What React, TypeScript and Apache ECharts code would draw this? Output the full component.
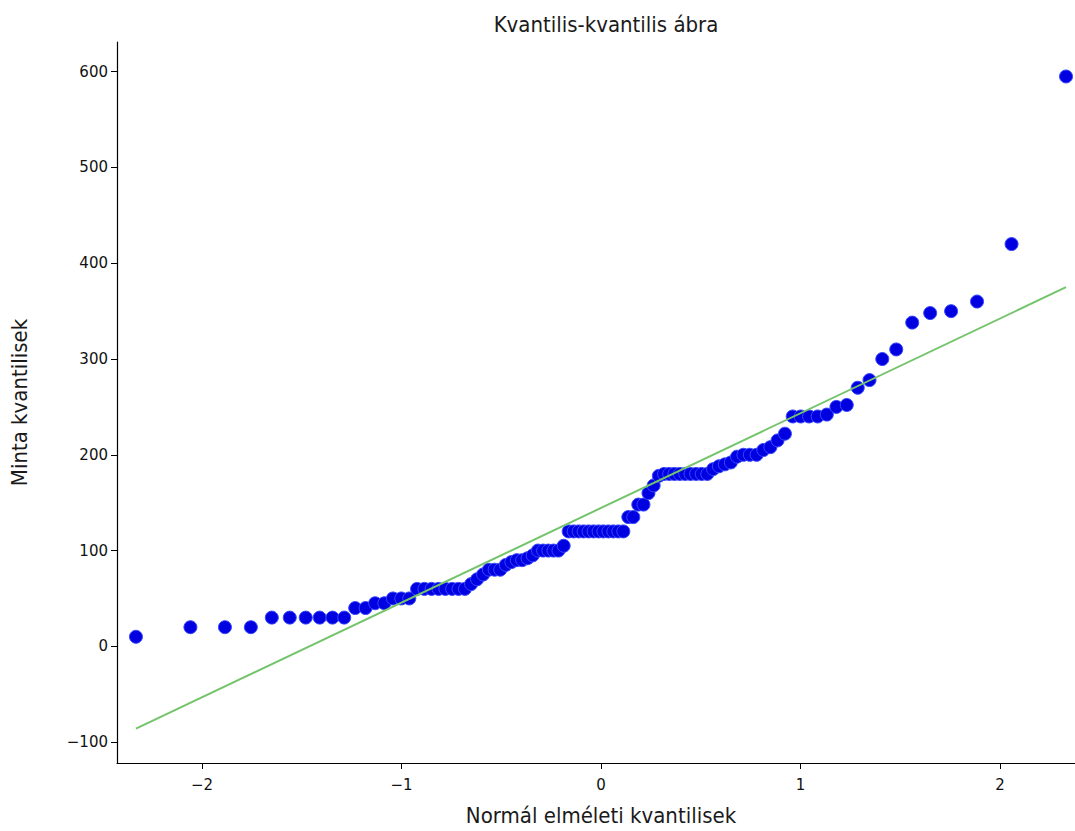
import { useEffect, useRef } from "react";
import * as echarts from "echarts";

// Theoretical normal quantiles (plotting positions i/(n+1), n = 100)
const theoreticalQuantiles = [
  -2.331, -2.058, -1.885, -1.755, -1.65, -1.56, -1.48, -1.41, -1.346, -1.287,
  -1.232, -1.18, -1.132, -1.086, -1.043, -1.001, -0.961, -0.922, -0.885, -0.849,
  -0.814, -0.78, -0.746, -0.714, -0.682, -0.651, -0.621, -0.591, -0.562, -0.533,
  -0.505, -0.477, -0.449, -0.422, -0.395, -0.368, -0.342, -0.316, -0.29, -0.264,
  -0.238, -0.213, -0.187, -0.162, -0.137, -0.112, -0.087, -0.062, -0.037, -0.012,
  0.012, 0.037, 0.062, 0.087, 0.112, 0.137, 0.162, 0.187, 0.213, 0.238,
  0.264, 0.29, 0.316, 0.342, 0.368, 0.395, 0.422, 0.449, 0.477, 0.505,
  0.533, 0.562, 0.591, 0.621, 0.651, 0.682, 0.714, 0.746, 0.78, 0.814,
  0.849, 0.885, 0.922, 0.961, 1.001, 1.043, 1.086, 1.132, 1.18, 1.232,
  1.287, 1.346, 1.41, 1.48, 1.56, 1.65, 1.755, 1.885, 2.058, 2.331,
];

// Ordered sample values
const sampleQuantiles = [
  10, 20, 20, 20, 30, 30, 30, 30, 30, 30,
  40, 40, 45, 45, 50, 50, 50, 60, 60, 60,
  60, 60, 60, 60, 60, 65, 70, 75, 80, 80,
  80, 85, 88, 90, 90, 92, 95, 100, 100, 100,
  100, 100, 105, 120, 120, 120, 120, 120, 120, 120,
  120, 120, 120, 120, 120, 135, 135, 148, 148, 160,
  168, 178, 180, 180, 180, 180, 180, 180, 180, 180,
  180, 185, 188, 190, 192, 198, 200, 200, 200, 205,
  208, 215, 222, 240, 240, 240, 240, 242, 250, 252,
  270, 278, 300, 310, 338, 348, 350, 360, 420, 595,
];

// Reference line end points
const refLineX = [-2.331, 2.331];
const refLineY = [-86, 375];

const xTicks = [-2, -1, 0, 1, 2];
const yTicks = [-100, 0, 100, 200, 300, 400, 500, 600];

const TITLE = "Kvantilis-kvantilis ábra";
const X_NAME = "Normál elméleti kvantilisek";
const Y_NAME = "Minta kvantilisek";

const NAME_FONT = "'DejaVu Sans Condensed', 'DejaVu Sans', sans-serif";
const TICK_FONT = "'DejaVu Sans', sans-serif";

const fmt = (v: number) => (v < 0 ? `\u2212${Math.abs(v)}` : `${v}`);

export default function App() {
  const ref = useRef<HTMLDivElement>(null);

  useEffect(() => {
    if (!ref.current) return;
    const chart = echarts.init(ref.current, undefined, { renderer: "svg" });

    const points = theoreticalQuantiles.map((x, i) => [x, sampleQuantiles[i]]);
    const line = refLineX.map((x, i) => [x, refLineY[i]]);

    const tickFont = { fontFamily: TICK_FONT, fontSize: 15, color: "#111" };
    const nameFont = { fontFamily: NAME_FONT, fontSize: 22, color: "#1a1a1a" };

    chart.setOption({
      animation: false,
      backgroundColor: "#ffffff",
      title: {
        text: TITLE,
        left: 601,
        textAlign: "center",
        top: 8,
        textStyle: { ...nameFont, fontWeight: "normal" },
      },
      grid: { left: 117, right: 0, top: 42, bottom: 66, containLabel: false },
      xAxis: {
        type: "value",
        min: -2.426,
        max: 2.376,
        name: X_NAME,
        nameLocation: "middle",
        nameGap: 41,
        nameTextStyle: { ...nameFont, padding: [0, 0, 0, 10] },
        axisLine: { show: true, onZero: false, lineStyle: { color: "#000", width: 1.2 } },
        axisTick: { show: true, length: 6, customValues: xTicks, lineStyle: { color: "#000" } },
        axisLabel: { ...tickFont, margin: 14, customValues: xTicks, formatter: fmt },
        splitLine: { show: false },
      },
      yAxis: {
        type: "value",
        min: -121.8,
        max: 631,
        name: Y_NAME,
        nameLocation: "middle",
        nameGap: 87,
        nameRotate: 90,
        nameTextStyle: nameFont,
        axisLine: { show: true, onZero: false, lineStyle: { color: "#000", width: 1.2 } },
        axisTick: { show: true, length: 6, customValues: yTicks, lineStyle: { color: "#000" } },
        axisLabel: { ...tickFont, margin: 9, customValues: yTicks, formatter: fmt },
        splitLine: { show: false },
      },
      series: [
        {
          type: "scatter",
          data: points,
          symbol: "circle",
          symbolSize: 13,
          itemStyle: { color: "#0000e0", borderColor: "#3848ff", borderWidth: 1, opacity: 1 },
          z: 2,
        },
        {
          type: "line",
          data: line,
          showSymbol: false,
          symbol: "none",
          lineStyle: { color: "#74c46c", width: 2 },
          z: 3,
        },
      ],
    });

    return () => chart.dispose();
  }, []);

  return (
    <div
      ref={ref}
      style={{ position: "absolute", left: 0, top: 0, width: 1075, height: 831 }}
    />
  );
}
